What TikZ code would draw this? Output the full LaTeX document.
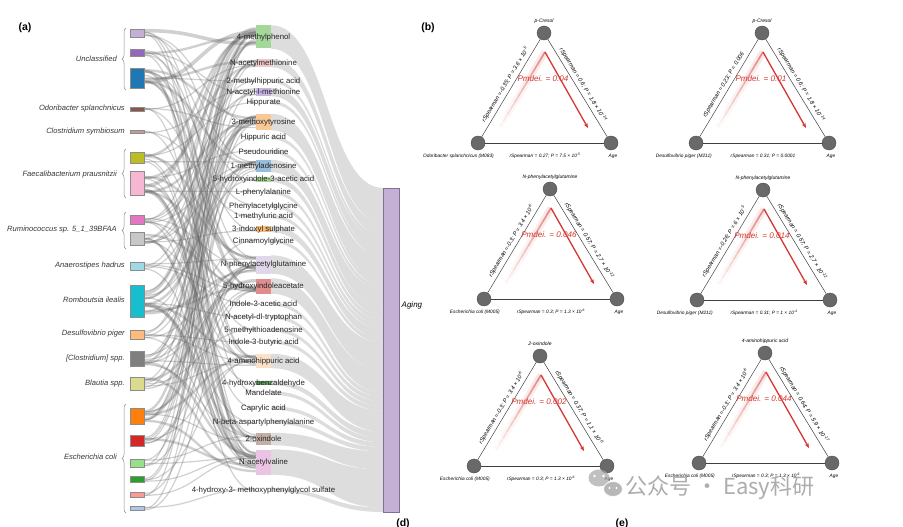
\documentclass[tikz,border=0pt]{standalone}
\usepackage{fontspec}
\setmainfont{Liberation Sans}
\newfontfamily\cjk{Noto Sans CJK SC}
\usetikzlibrary{calc,arrows.meta,decorations.pathreplacing}
\pgfdeclarelayer{bg}
\pgfsetlayers{bg,main}
\definecolor{sc1}{RGB}{197,176,213}
\definecolor{sc2}{RGB}{148,103,189}
\definecolor{sc3}{RGB}{31,119,180}
\definecolor{sc4}{RGB}{140,86,75}
\definecolor{sc5}{RGB}{196,156,148}
\definecolor{sc6}{RGB}{188,189,34}
\definecolor{sc7}{RGB}{247,182,210}
\definecolor{sc8}{RGB}{227,119,194}
\definecolor{sc9}{RGB}{199,199,199}
\definecolor{sc10}{RGB}{158,218,229}
\definecolor{sc11}{RGB}{23,190,207}
\definecolor{sc12}{RGB}{255,187,120}
\definecolor{sc13}{RGB}{127,127,127}
\definecolor{sc14}{RGB}{219,219,141}
\definecolor{sc15}{RGB}{255,127,14}
\definecolor{sc16}{RGB}{214,39,40}
\definecolor{sc17}{RGB}{152,223,138}
\definecolor{sc18}{RGB}{44,160,44}
\definecolor{sc19}{RGB}{255,152,150}
\definecolor{sc20}{RGB}{174,199,232}
\definecolor{mgr}{RGB}{165,215,155}
\definecolor{mpi}{RGB}{240,200,200}
\definecolor{mla}{RGB}{200,180,225}
\definecolor{mor}{RGB}{250,200,150}
\definecolor{mbl}{RGB}{150,190,220}
\definecolor{mor2}{RGB}{245,190,120}
\definecolor{mlv}{RGB}{225,215,235}
\definecolor{mre}{RGB}{225,140,140}
\definecolor{mpe}{RGB}{250,225,200}
\definecolor{mdg}{RGB}{90,160,90}
\definecolor{mta}{RGB}{195,175,165}
\definecolor{mpk}{RGB}{235,195,228}
\definecolor{agingc}{RGB}{197,176,213}
\definecolor{agingd}{RGB}{130,110,150}
\definecolor{dotc}{RGB}{105,105,105}
\definecolor{redc}{RGB}{214,55,50}
\newcommand\tria[9]{%
  \node[dot] (#1t) at (#2,#3) {};
  \node[dot] (#1l) at (#2-66,#3+110) {};
  \node[dot] (#1r) at (#2+67,#3+110) {};
  \node[toplab] (#1n) at (#2,#3-12) {#4};
  \draw[edge] (#1l) -- node[sidelab, sloped, above] {#6} (#1t);
  \draw[edge] (#1t) -- node[sidelab, sloped, above] {#7} (#1r);
  \draw[edge] (#1l) -- (#1r);
  \node[btlab, anchor=east] (#1a) at (#2-50,#3+123) {#5};
  \node[btlab] (#1b) at (#2+1,#3+123) {#8};
  \node[btlab] (#1c) at (#2+69,#3+123) {Age};
  \coordinate (#1p) at (#2+1,#3+19);
  \coordinate (#1q) at (#2-44,#3+94);
  \coordinate (#1s) at (#2+44,#3+95);
  \foreach \k in {0,...,11}{%
    \pgfmathsetmacro\op{0.55*(1-\k/12)}%
    \pgfmathsetmacro\opb{0.12*(1-\k/12)}%
    \pgfmathsetmacro\ka{\k/12}%
    \pgfmathsetmacro\kb{(\k+1)/12}%
    \draw[redc, line width=7pt, opacity=\opb] ($(#1p)!\ka!(#1q)$) -- ($(#1p)!\kb!(#1q)$);
    \draw[redc, line width=1.6pt, opacity=\op] ($(#1p)!\ka!(#1q)$) -- ($(#1p)!\kb!(#1q)$);
  }
  \draw[redc, line width=1.3pt, -{Stealth[length=5pt,width=4pt]}] (#1p) -- (#1s);
  \node[ptxt] (#1m) at (#2-1,#3+46) {Pmdei. = #9};
}
\begin{document}
\begin{tikzpicture}[x=1pt,y=-1pt,
  sbox/.style={draw=black!45, line width=0.4pt, minimum width=14pt, inner sep=0pt},
  mbox/.style={minimum width=15pt, inner sep=0pt, draw=none},
  slab/.style={font=\fontsize{7.6}{9}\selectfont\itshape, text=black!78, inner sep=0pt, anchor=east},
  mlab/.style={font=\fontsize{7.8}{9}\selectfont, text=black!85, inner sep=0pt},
  flow/.style={draw=black!60, opacity=0.3},
  band/.style={fill=black!40, opacity=0.33},
  brc/.style={draw=black!45, line width=0.5pt, decorate, decoration={brace, amplitude=4pt}},
  dot/.style={circle, minimum size=14pt, inner sep=0pt, fill=dotc, draw=black!70, line width=0.4pt},
  edge/.style={draw=black!75, line width=0.5pt},
  toplab/.style={font=\fontsize{5}{6}\selectfont\itshape, inner sep=0pt},
  btlab/.style={font=\fontsize{4.8}{6}\selectfont\itshape, inner sep=0pt},
  sidelab/.style={font=\fontsize{5.8}{7}\selectfont\itshape, inner sep=3.2pt},
  ptxt/.style={font=\fontsize{8.1}{9}\selectfont\itshape, text=redc, inner sep=0pt},
  plab/.style={font=\fontsize{10.5}{12}\selectfont\bfseries, inner sep=0pt}
]
\path[use as bounding box] (0,0) rectangle (903,527);
\clip (0,0) rectangle (903,527);
\begin{pgfonlayer}{bg}
\fill[white] (0,0) rectangle (903,527);
\end{pgfonlayer}

% ---------- panel (a) ----------
\node[plab] (pa) at (25,28) {(a)};

\foreach \i/\y/\h/\c in {1/33/8/sc1, 2/52.5/7/sc2, 3/78/20/sc3, 4/109/4/sc4, 5/132/3/sc5,
  6/157.5/11/sc6, 7/183/24/sc7, 8/219.5/9/sc8, 9/239/13/sc9, 10/266/8/sc10,
  11/301/32/sc11, 12/334.5/9/sc12, 13/359/15/sc13, 14/383.5/13/sc14, 15/416/16/sc15,
  16/441/11/sc16, 17/463/8/sc17, 18/479.5/6/sc18, 19/494.5/5/sc19, 20/508.5/4/sc20}
  \node[sbox, minimum height=\h pt, fill=\c] (s\i) at (137,\y) {};

\foreach \i/\y/\h/\c in {1/37/23/mgr, 2/63/8/mpi, 3/81/3/none, 4/92/8/mla, 5/102.5/3/none,
  6/122/16/mor, 7/137.5/3/none, 8/151.5/3/none, 9/166/12/mbl, 10/179.5/5/mgr,
  11/192.5/3/none, 12/206/3/none, 13/216.5/3/none, 14/229/6/mor2, 15/241/3/none,
  16/264.5/18/mlv, 17/286/15/mre, 18/304/3/none, 19/317/3/none, 20/330/3/none,
  21/342/3/none, 22/361/14/mpe, 23/383/4/mdg, 24/393/3/none, 25/408/3/none,
  26/422/3/none, 27/439/12/mta, 28/462/25/mpk, 29/490/3/none}
  \node[mbox, minimum height=\h pt, fill=\c] (m\i) at (263.5,\y) {};

\node[draw=agingd, fill=agingc, line width=0.5pt, minimum width=16pt, minimum height=324pt, inner sep=0pt] (aging) at (391.5,350) {};
\node[font=\fontsize{8}{9}\selectfont\itshape, anchor=west, inner sep=0pt] (aginglab) at (401.5,305) {Aging};

% flows species -> metabolites
\begin{pgfonlayer}{bg}
\pgfmathsetseed{7}
\foreach \s/\m/\w in {1/1/3, 1/6/1, 1/9/1, 1/16/1, 1/22/1, 1/28/1,
  2/1/2, 2/4/1, 2/14/1, 2/17/1, 2/27/1, 2/10/1,
  3/1/3, 3/2/2, 3/3/1, 3/6/2, 3/9/2, 3/12/1, 3/16/2, 3/17/2, 3/22/1, 3/28/2, 3/24/1,
  4/2/1, 4/6/1, 4/16/1, 4/28/1,
  5/4/1, 5/13/1, 5/22/1,
  6/1/2, 6/5/1, 6/9/1, 6/16/2, 6/20/1, 6/27/1, 6/28/1,
  7/1/3, 7/2/2, 7/6/2, 7/8/1, 7/11/1, 7/16/2, 7/17/2, 7/22/2, 7/27/2, 7/28/3, 7/25/1,
  8/1/1, 8/4/1, 8/6/1, 8/9/1, 8/16/1, 8/17/1, 8/28/1, 8/23/1,
  9/1/2, 9/3/1, 9/6/1, 9/9/1, 9/14/1, 9/17/2, 9/22/1, 9/28/2, 9/29/1,
  10/1/1, 10/6/1, 10/16/1, 10/17/1, 10/28/1, 10/18/1,
  11/1/3, 11/2/1, 11/4/1, 11/6/2, 11/7/1, 11/9/2, 11/10/1, 11/16/2, 11/17/2, 11/19/1,
  11/22/2, 11/27/2, 11/28/3, 11/26/1,
  12/1/1, 12/6/1, 12/9/1, 12/16/1, 12/22/1, 12/28/1, 12/21/1,
  13/1/2, 13/2/1, 13/6/1, 13/9/1, 13/15/1, 13/16/1, 13/17/1, 13/22/1, 13/27/1, 13/28/2,
  14/1/1, 14/6/1, 14/9/1, 14/16/1, 14/17/2, 14/22/1, 14/28/2, 14/20/1,
  15/1/2, 15/2/1, 15/6/2, 15/9/1, 15/16/2, 15/17/1, 15/22/2, 15/28/2, 15/27/1,
  16/1/1, 16/4/1, 16/6/1, 16/16/1, 16/17/1, 16/22/1, 16/28/2,
  17/1/1, 17/9/1, 17/16/1, 17/28/1, 17/27/1,
  18/2/1, 18/6/1, 18/22/1, 18/28/1,
  19/1/1, 19/16/1, 19/28/1,
  20/6/1, 20/17/1, 20/29/1}{
  \pgfmathsetmacro\hs{{0,8,7,20,4,3,11,24,9,13,8,32,9,15,13,16,11,8,6,5,4}[\s]}
  \pgfmathsetmacro\hm{{0,23,8,3,8,3,16,3,3,12,5,3,3,3,6,3,18,15,3,3,3,3,14,4,3,3,3,12,25,3}[\m]}
  \pgfmathsetmacro\ya{(rnd-0.5)*0.8*\hs}
  \pgfmathsetmacro\yb{(rnd-0.5)*0.8*\hm}
  \pgfmathsetmacro\lw{1.2*\w}
  \draw[flow, line width=\lw pt] ([yshift=\ya pt]s\s.east) .. controls +(56,0) and +(-56,0) .. ([yshift=\yb pt]m\m.west);
}
% flows metabolites -> aging
\foreach \i/\at/\ab in {1/188/222.8, 2/222.8/234.9, 3/234.9/239.5, 4/239.5/251.6, 5/251.6/256.1,
  6/256.1/280.4, 7/280.4/284.9, 8/284.9/289.4, 9/289.4/307.6, 10/307.6/315.2,
  11/315.2/319.7, 12/319.7/324.3, 13/324.3/328.8, 14/328.8/337.9, 15/337.9/342.4,
  16/342.4/369.7, 17/369.7/392.4, 18/392.4/396.9, 19/396.9/401.5, 20/401.5/406.0,
  21/406.0/410.6, 22/410.6/431.8, 23/431.8/437.8, 24/437.8/442.3, 25/442.3/446.9,
  26/446.9/451.4, 27/451.4/469.6, 28/469.6/507.5, 29/507.5/512}{
  \fill[band] (m\i.north east) .. controls +(56,0) and +(-56,0) .. (aging.west |- 0,\at)
    -- (aging.west |- 0,\ab) .. controls +(-56,0) and +(56,0) .. (m\i.south east) -- cycle;
}
\end{pgfonlayer}

% metabolite labels
\foreach \i/\y/\t in {1/37/4-methylphenol, 2/63/N-acetylmethionine, 3/81/2-methylhippuric acid,
  4/92/N-acetyl-l-methionine, 5/102.5/Hippurate, 6/122/3-methoxytyrosine, 7/137.5/Hippuric acid,
  8/151.5/Pseudouridine, 9/166/1-methyladenosine, 10/179.5/5-hydroxyindole-3-acetic acid,
  11/192.5/L-phenylalanine, 12/206/Phenylacetylglycine, 13/216.5/1-methyluric acid,
  14/229/3-indoxyl sulphate, 15/241/Cinnamoylglycine, 16/264.5/N-phenylacetylglutamine,
  17/286/5-hydroxyindoleacetate, 18/304/Indole-3-acetic acid, 19/317/N-acetyl-dl-tryptophan,
  20/330/5-methylthioadenosine, 21/342/Indole-3-butyric acid, 22/361/4-aminohippuric acid,
  23/383/4-hydroxybenzaldehyde, 24/393/Mandelate, 25/408/Caprylic acid,
  26/422/N-beta-aspartylphenylalanine, 27/439/2-oxindole, 28/462/N-acetylvaline,
  29/490/4-hydroxy-3- methoxyphenylglycol sulfate}
  \node[mlab] (ml\i) at (263.5,\y) {\t};

% species labels
\node[slab] (l1) at (117,59) {Unclassified};
\node[slab] (l2) at (125,109) {Odoribacter splanchnicus};
\node[slab] (l3) at (125,132) {Clostridium symbiosum};
\node[slab] (l4) at (117,175) {Faecalibacterium prausnitzii};
\node[slab] (l5) at (117,230) {Ruminococcus sp. 5\_1\_39BFAA};
\node[slab] (l6) at (125,266) {Anaerostipes hadrus};
\node[slab] (l7) at (125,300) {Romboutsia ilealis};
\node[slab] (l8) at (125,334) {Desulfovibrio piger};
\node[slab] (l9) at (125,359) {[Clostridium] spp.};
\node[slab] (l10) at (125,384) {Blautia spp.};
\node[slab] (l11) at (117,457) {Escherichia coli};

\draw[brc] (126,90) -- (126,28);
\draw[brc] (126,198) -- (126,149);
\draw[brc] (126,249) -- (126,212);
\draw[brc] (126,513) -- (126,404);

% ---------- panel (b) ----------
\node[plab] (pb) at (428,28) {(b)};
\tria{ta}{544}{33}{p-Cresol}{Odoribacter splanchnicus (M083)}{rSpearman =-0.35; P = 3.6 × 10\textsuperscript{-5}}{rSpearman = 0.6; P = 1.8 × 10\textsuperscript{-14}}{rSpearman = 0.27; P = 7.5 × 10\textsuperscript{-5}}{0.04}
\tria{tb}{762}{33}{p-Cresol}{Desulfovibrio piger (M211)}{rSpearman = 0.23; P = 0.006}{rSpearman = 0.6; P = 1.8 × 10\textsuperscript{-14}}{rSpearman = 0.31; P = 0.0001}{0.01}
\tria{tc}{550}{189}{N-phenylacetylglutamine}{Escherichia coli (M005)}{rSpearman =-0.3; P = 3.4 × 10\textsuperscript{-6}}{rSpearman = 0.57; P = 2.7 × 10\textsuperscript{-12}}{rSpearman = 0.3; P = 1.3 × 10\textsuperscript{-6}}{0.046}
\tria{td}{763}{190}{N-phenylacetylglutamine}{Desulfovibrio piger (M211)}{rSpearman =-0.26; P = 6 × 10\textsuperscript{-5}}{rSpearman = 0.57; P = 2.7 × 10\textsuperscript{-12}}{rSpearman = 0.31; P = 1 × 10\textsuperscript{-4}}{0.014}
\tria{te}{540}{356}{2-oxindole}{Escherichia coli (M005)}{rSpearman =-0.3; P = 3.4 × 10\textsuperscript{-6}}{rSpearman = 0.37; P = 1.1 × 10\textsuperscript{-6}}{rSpearman = 0.3; P = 1.3 × 10\textsuperscript{-6}}{0.002}
\tria{tf}{765}{353}{4-aminohippuric acid}{Escherichia coli (M005)}{rSpearman =-0.3; P = 3.4 × 10\textsuperscript{-6}}{rSpearman = 0.64; P = 5.9 × 10\textsuperscript{-17}}{rSpearman = 0.3; P = 1.3 × 10\textsuperscript{-6}}{0.044}

\node[plab] (pd) at (403,524) {(d)};
\node[plab] (pe) at (622,524) {(e)};

% watermark
\fill[black!35, opacity=0.7] (599,478) ellipse [x radius=10.5, y radius=8.5];
\fill[white] (594.5,476) circle (1.3) (603.5,476) circle (1.3);
\fill[black!35, opacity=0.8, draw=white, line width=0.9pt] (613,489) ellipse [x radius=9.5, y radius=7.5];
\fill[white] (609.5,488) circle (1.1) (616.5,488) circle (1.1);
\node[font=\cjk\fontsize{22}{24}\selectfont, text=black!32, anchor=west, inner sep=0pt] (wm) at (625,488) {公众号 · Easy科研};
\end{tikzpicture}
\end{document}
